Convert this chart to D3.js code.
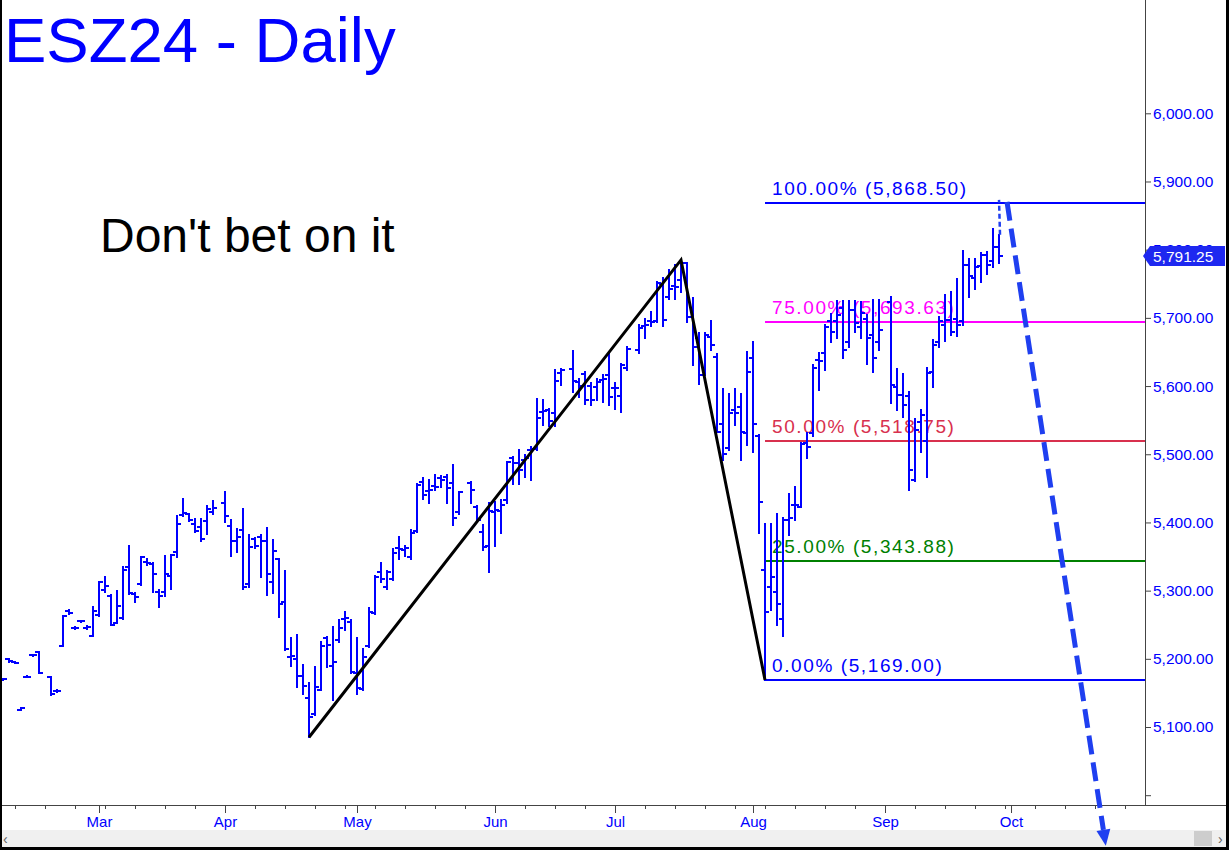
<!DOCTYPE html>
<html><head><meta charset="utf-8">
<script src="https://cdn.jsdelivr.net/npm/d3@7"></script>
<style>html,body{margin:0;padding:0;background:#fff;overflow:hidden}svg{display:block}</style>
</head><body>
<script>
// ---------- DATA ----------
const days = [
 "02-08","02-09","02-12","02-13","02-14","02-15","02-16","02-20","02-21","02-22","02-23","02-26","02-27","02-28","02-29",
 "03-01","03-04","03-05","03-06","03-07","03-08","03-11","03-12","03-13","03-14","03-15","03-18","03-19","03-20","03-21","03-22","03-25","03-26","03-27","03-28",
 "04-01","04-02","04-03","04-04","04-05","04-08","04-09","04-10","04-11","04-12","04-15","04-16","04-17","04-18","04-19","04-22","04-23","04-24","04-25","04-26","04-29","04-30",
 "05-01","05-02","05-03","05-06","05-07","05-08","05-09","05-10","05-13","05-14","05-15","05-16","05-17","05-20","05-21","05-22","05-23","05-24","05-28","05-29","05-30","05-31",
 "06-03","06-04","06-05","06-06","06-07","06-10","06-11","06-12","06-13","06-14","06-17","06-18","06-20","06-21","06-24","06-25","06-26","06-27","06-28",
 "07-01","07-02","07-03","07-05","07-08","07-09","07-10","07-11","07-12","07-15","07-16","07-17","07-18","07-19","07-22","07-23","07-24","07-25","07-26","07-29","07-30","07-31",
 "08-01","08-02","08-05","08-06","08-07","08-08","08-09","08-12","08-13","08-14","08-15","08-16","08-19","08-20","08-21","08-22","08-23","08-26","08-27","08-28","08-29","08-30",
 "09-03","09-04","09-05","09-06","09-09","09-10","09-11","09-12","09-13","09-16","09-17","09-18","09-19","09-20","09-23","09-24","09-25","09-26","09-27"
];
const opens = [
 5170,5200,5196,5125,5174,5205,5210,5173,5153,5219,5270,5245,5255,5245,5234,
 5264,5301,5292,5253,5260,5334,5295,5309,5342,5339,5298,5298,5322,5357,5411,5412,5398,5394,5402,5415,
 5429,5395,5373,5389,5310,5376,5379,5373,5313,5346,5284,5203,5200,5175,5142,5119,5155,5231,5190,5228,5259,5254,
 5179,5156,5219,5267,5328,5306,5317,5362,5360,5350,5388,5460,5446,5453,5465,5466,5458,5416,5458,5423,5386,5365,
 5416,5417,5433,5494,5487,5492,5506,5507,5562,5565,5560,5619,5625,5606,5618,5600,5599,5609,5616,
 5597,5585,5626,5653,5688,5696,5696,5750,5731,5747,5755,5780,5702,5670,5616,5672,5643,5545,5509,5565,5570,5531,
 5641,5527,5330,5306,5298,5259,5404,5426,5423,5516,5531,5638,5648,5695,5695,5714,5665,5712,5687,5699,5675,5665,
 5724,5599,5587,5585,5462,5548,5519,5621,5665,5690,5697,5698,5695,5778,5758,5776,5792,5783,5804
];
const highs = [
 5171,5200,5196,5128,5175,5206,5210,5174,5154,5263,5271,5246,5256,5248,5276,
 5312,5320,5293,5299,5334,5365,5296,5350,5347,5340,5301,5351,5352,5410,5435,5412,5405,5405,5424,5431,
 5445,5404,5390,5419,5382,5377,5382,5392,5374,5346,5329,5230,5235,5191,5165,5188,5225,5232,5246,5257,5268,5257,
 5230,5215,5274,5321,5340,5329,5361,5379,5366,5389,5457,5465,5462,5470,5468,5470,5484,5445,5460,5424,5396,5428,
 5430,5433,5489,5496,5506,5499,5511,5581,5580,5566,5624,5625,5651,5611,5621,5604,5611,5616,5647,
 5605,5632,5658,5690,5699,5708,5753,5758,5770,5778,5785,5781,5729,5678,5678,5695,5647,5595,5589,5595,5589,5650,
 5665,5528,5398,5398,5413,5406,5441,5452,5517,5531,5631,5649,5690,5705,5725,5725,5725,5725,5724,5704,5726,5726,
 5731,5625,5617,5591,5552,5565,5626,5668,5702,5734,5738,5757,5798,5787,5786,5795,5797,5831,5822
];
const lows = [
 5169,5196,5194,5125,5173,5204,5179,5147,5152,5219,5265,5244,5254,5244,5233,
 5263,5298,5249,5252,5258,5295,5283,5308,5338,5298,5276,5292,5303,5349,5409,5402,5386,5373,5383,5412,
 5401,5351,5357,5303,5306,5363,5320,5294,5296,5262,5213,5189,5159,5149,5085,5118,5154,5188,5140,5225,5242,5179,
 5149,5155,5218,5266,5313,5303,5316,5347,5351,5347,5386,5434,5428,5448,5452,5428,5396,5413,5428,5401,5360,5328,
 5365,5385,5428,5457,5457,5467,5462,5506,5543,5541,5541,5602,5592,5584,5574,5572,5580,5577,5572,
 5567,5562,5624,5648,5671,5688,5694,5688,5727,5727,5738,5694,5631,5603,5616,5653,5532,5492,5506,5543,5492,5514,
 5504,5385,5169,5272,5250,5233,5382,5404,5422,5494,5527,5594,5623,5665,5670,5641,5658,5680,5670,5633,5621,5653,
 5575,5565,5555,5448,5461,5504,5467,5598,5658,5666,5675,5673,5689,5731,5743,5752,5765,5775,5780
];
const closes = [
 5170,5197,5194,5128,5174,5205,5179,5148,5153,5263,5267,5245,5255,5247,5270,
 5312,5307,5250,5278,5330,5296,5290,5349,5340,5325,5292,5325,5352,5397,5414,5403,5388,5375,5420,5421,
 5409,5373,5378,5306,5364,5365,5373,5324,5358,5280,5215,5204,5175,5160,5114,5159,5219,5221,5196,5245,5260,5180,
 5157,5203,5268,5320,5317,5328,5355,5361,5362,5385,5455,5440,5448,5452,5462,5450,5406,5444,5447,5404,5364,5417,
 5418,5426,5489,5487,5477,5494,5507,5553,5564,5549,5608,5624,5607,5600,5579,5579,5606,5611,5584,
 5597,5631,5654,5685,5690,5694,5751,5697,5742,5745,5780,5702,5658,5616,5675,5660,5533,5501,5561,5561,5533,5620,
 5545,5430,5269,5320,5281,5404,5406,5426,5515,5511,5626,5637,5687,5680,5704,5653,5712,5692,5707,5670,5641,5682,
 5602,5587,5572,5477,5536,5558,5619,5660,5695,5697,5680,5690,5778,5762,5775,5792,5778,5804,5791.25
];
const monthTickDays = ["03-01","04-01","05-01","06-03","07-01","08-01","09-02","10-01"];
const monthLabels = ["Mar","Apr","May","Jun","Jul","Aug","Sep","Oct"];
const priceTicks = [5000,5100,5200,5300,5400,5500,5600,5700,5800,5900,6000];
const fibLow = 5169, fibHigh = 5868.5;
const fibLevels = [1, 0.75, 0.5, 0.25, 0];
const fibColors = ["#0000ff","#ff00ff","#d8304e","#008000","#0000ff"];
const fibStartDay = "08-05";
const swingDays = ["04-19","07-16","08-05"];
const swingPrices = [5085, 5785, 5169];
const lastPrice = 5791.25;
// projected move: weekday offsets from Mar 1 and prices
const projIdx = [151.33, 167.8];
const projPrice = [5870, 4926];
const connectPrice = [5822, 5873];
const titleText = "ESZ24 - Daily";
const noteText = "Don't bet on it";

// ---------- HELPERS ----------
const W = 1229, H = 850, plotR = 1145, plotB = 805;
const base = new Date(2024, 2, 1);
function parse(s){ const [m,d] = s.split("-").map(Number); return new Date(2024, m-1, d); }
function wd(s){
  const dt = parse(s); let n = 0; const step = dt < base ? -1 : 1;
  const t = new Date(base);
  while (t.getTime() !== dt.getTime()) { t.setDate(t.getDate()+step); const g = t.getDay(); if (g!==0 && g!==6) n += step; }
  return n;
}
const FONT = "'Liberation Sans', Arial, sans-serif";

const x = d3.scaleLinear().domain([-16.5, 174.33]).range([0, plotR]);
const y = d3.scaleLinear().domain([5000, 6000]).range([795.2, 113.3]);

const svg = d3.select("body").append("svg").attr("width", W).attr("height", H)
  .style("font-family", FONT);
svg.append("rect").attr("width", W).attr("height", H).attr("fill", "#fff");

svg.append("defs").append("clipPath").attr("id","plotclip")
  .append("rect").attr("x",0).attr("y",0).attr("width",plotR).attr("height",plotB);

// title and note
svg.append("text").attr("x", 4).attr("y", 62).attr("fill", "#0000ff")
  .style("font-size", "63.5px").text(titleText);
svg.append("text").attr("x", 100).attr("y", 252).attr("fill", "#000")
  .style("font-size", "48px").text(noteText);

// fib lines
const fx0 = x(wd(fibStartDay));
const fib = svg.append("g");
fibLevels.forEach((p, k) => {
  const v = fibLow + (fibHigh - fibLow) * p;
  const yy = Math.round(y(v));
  fib.append("line").attr("x1", fx0).attr("x2", plotR).attr("y1", yy).attr("y2", yy)
    .attr("stroke", fibColors[k]).attr("stroke-width", 2);
  fib.append("text").attr("x", fx0 + 7).attr("y", yy - 8).attr("fill", fibColors[k])
    .style("font-size", "19px").style("letter-spacing", "1.6px")
    .text(d3.format(".2f")(p*100) + "% (" + d3.format(",.2f")(v) + ")");
});

// bars
const bars = svg.append("g").attr("clip-path", "url(#plotclip)")
  .attr("stroke", "#0000ff").attr("stroke-width", 2).attr("shape-rendering", "crispEdges");
days.forEach((d, i) => {
  const xi = Math.round(x(wd(d)));
  const yh = Math.round(y(highs[i])), yl = Math.round(y(lows[i]));
  const yo = Math.round(y(opens[i])), yc = Math.round(y(closes[i]));
  bars.append("line").attr("x1", xi).attr("x2", xi).attr("y1", yh - 1).attr("y2", Math.max(yl, yh) + 1);
  bars.append("line").attr("x1", xi - 4).attr("x2", xi).attr("y1", yo).attr("y2", yo);
  bars.append("line").attr("x1", xi).attr("x2", xi + 4).attr("y1", yc).attr("y2", yc);
});

// zigzag
const zz = swingDays.map((d, k) => [x(wd(d)), y(swingPrices[k])]);
svg.append("path").attr("d", d3.line()(zz)).attr("fill", "none")
  .attr("stroke", "#000").attr("stroke-width", 3).attr("stroke-linejoin", "miter");

// right axis
const ra = svg.append("g").attr("transform", "translate(" + plotR + ",0)")
  .call(d3.axisRight(y).tickValues(priceTicks).tickSize(6).tickPadding(2)
    .tickFormat(d => d === 5000 ? "" : d3.format(",.2f")(d)));
ra.select(".domain").remove();
ra.selectAll("line").attr("stroke", "#444");
ra.selectAll("text").attr("fill", "#0000ff").style("font-size", "15.5px").style("font-family", FONT);
svg.append("line").attr("x1", plotR + 0.5).attr("x2", plotR + 0.5).attr("y1", 0).attr("y2", plotB)
  .attr("stroke", "#444").attr("stroke-width", 1);

// price tag (covers the 5,800.00 label as in the source)
const ty = Math.round(y(lastPrice));
svg.append("path").attr("fill", "#1e28f0")
  .attr("d", `M${plotR-2},${ty} L${plotR+5},${ty-10} L${W-4},${ty-10} L${W-4},${ty+10} L${plotR+5},${ty+10} Z`);
svg.append("text").attr("x", plotR + 8).attr("y", ty + 5.5).attr("fill", "#fff")
  .style("font-size", "15.5px").text(d3.format(",.2f")(lastPrice));

// bottom axis
svg.append("line").attr("x1", 0).attr("x2", W).attr("y1", plotB + 0.5).attr("y2", plotB + 0.5)
  .attr("stroke", "#444");
const minor = [];
for (let i = -16; i <= 174; i++) minor.push(i);
const ba = svg.append("g").attr("transform", "translate(0," + plotB + ")");
ba.selectAll("line.minor").data(minor.filter(i => ((i + 1000) % 5) === 1)).join("line")
  .attr("x1", d => Math.round(x(d)) + 0.5).attr("x2", d => Math.round(x(d)) + 0.5)
  .attr("y1", 0).attr("y2", 4).attr("stroke", "#444");
const bax = ba.append("g").call(d3.axisBottom(x).tickValues(monthTickDays.map(wd)).tickSize(8).tickPadding(3)
  .tickFormat((d, k) => monthLabels[k]));
bax.select(".domain").remove();
bax.selectAll("line").attr("stroke", "#444");
bax.selectAll("text").attr("fill", "#0000ff").style("font-size", "15px").style("font-family", FONT);

// scrollbar
svg.append("rect").attr("x", 0).attr("y", 830).attr("width", W).attr("height", 17).attr("fill", "#f0f0f0");
svg.append("rect").attr("x", 1194).attr("y", 831).attr("width", 18).attr("height", 15).attr("fill", "#cdcdcd");
svg.append("text").attr("x", 3).attr("y", 844).attr("fill", "#606060").style("font-size", "14px").text("\u2039");
svg.append("text").attr("x", 1218).attr("y", 844).attr("fill", "#606060").style("font-size", "14px").text("\u203A");

// projection (drawn last, it runs over the axis and scrollbar)
const lastIdx = wd(days[days.length-1]);
svg.append("line").attr("x1", x(lastIdx)+1).attr("x2", x(lastIdx))
  .attr("y1", y(connectPrice[0])).attr("y2", y(connectPrice[1]))
  .attr("stroke", "#1f3ff0").attr("stroke-width", 2.5).attr("stroke-dasharray", "5,3");
const p0 = [x(projIdx[0]), y(projPrice[0])], p1 = [x(projIdx[1]), y(projPrice[1])];
const ang = Math.atan2(p1[1]-p0[1], p1[0]-p0[0]);
const headLen = 16, headW = 7;
const hb = [p1[0] - headLen*Math.cos(ang), p1[1] - headLen*Math.sin(ang)];
svg.append("line").attr("x1", p0[0]).attr("y1", p0[1]).attr("x2", hb[0]).attr("y2", hb[1])
  .attr("stroke", "#1f3ff0").attr("stroke-width", 5).attr("stroke-dasharray", "19,8");
svg.append("path").attr("fill", "#1f3ff0").attr("d",
  "M" + p1[0] + "," + p1[1] +
  "L" + (hb[0] + headW*Math.sin(ang)) + "," + (hb[1] - headW*Math.cos(ang)) +
  "L" + (hb[0] - headW*Math.sin(ang)) + "," + (hb[1] + headW*Math.cos(ang)) + "Z");

// border
svg.append("rect").attr("x", 0).attr("y", 0).attr("width", 2).attr("height", H).attr("fill", "#000");
svg.append("rect").attr("x", W - 3).attr("y", 0).attr("width", 3).attr("height", H).attr("fill", "#000");
svg.append("rect").attr("x", 0).attr("y", H - 3).attr("width", W).attr("height", 3).attr("fill", "#000");
</script>
</body></html>
